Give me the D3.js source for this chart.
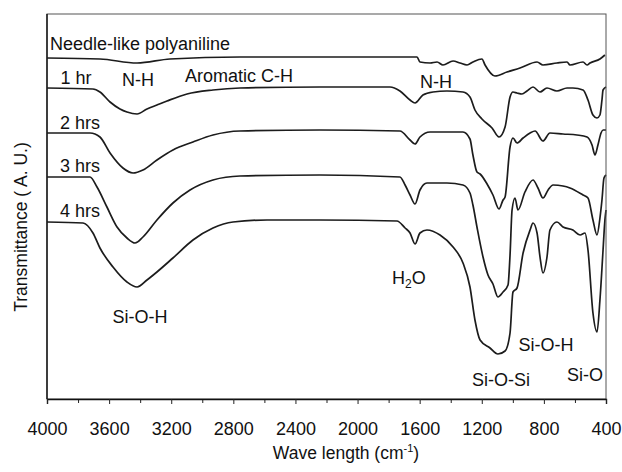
<!DOCTYPE html>
<html>
<head>
<meta charset="utf-8">
<script src="https://cdn.jsdelivr.net/npm/d3@7"></script>
<style>
	body { margin: 0; background: #fff; }
	svg { font-family: 'Liberation Sans', Arial, sans-serif; }
</style>
</head>
<body>
<svg id="chart" width="622" height="472"></svg>
<script>
// [wavenumber (cm-1), transmittance (a.u.)]
const needlePani = [
	[4000, 68.2], [3659, 68.0], [3420, 67.2], [3208, 68.0], [2757, 68.4], [2242, 68.4], [1617, 68.4],
	[1598, 67.4], [1533, 67.2], [1488, 67.4], [1450, 66.8], [1385, 67.6], [1340, 67.2], [1295, 66.8],
	[1257, 67.4], [1199, 68.0], [1179, 66.8], [1115, 64.6], [1038, 65.4], [954, 66.2], [844, 67.4],
	[806, 66.8], [716, 67.2], [651, 67.4], [632, 66.8], [548, 67.4], [522, 66.8], [503, 67.2],
	[439, 68.0], [407, 68.8],
]
const hr1 = [
	[4000, 62.2], [3704, 62.0], [3659, 61.4], [3594, 59.4], [3530, 58.0], [3485, 57.4], [3420, 57.0],
	[3356, 58.0], [3292, 58.8], [3227, 59.6], [3098, 61.0], [2931, 61.8], [2757, 62.2], [2242, 62.4],
	[1791, 62.4], [1727, 61.6], [1662, 59.8], [1630, 59.2], [1579, 60.8], [1514, 61.4], [1424, 61.6],
	[1321, 61.4], [1276, 60.4], [1244, 57.8], [1199, 56.0], [1134, 54.2], [1089, 52.4], [1050, 54.4],
	[1018, 60.4], [999, 61.4], [973, 61.2], [941, 61.0], [909, 61.6], [870, 62.4], [825, 61.4],
	[780, 62.2], [716, 61.6], [651, 62.2], [613, 62.2], [548, 61.8], [516, 59.8], [484, 56.8],
	[458, 56.2], [439, 56.8], [426, 59.8], [419, 61.8], [400, 62.4],
]
const hr2 = [
	[4000, 53.2], [3723, 53.2], [3659, 52.4], [3594, 49.2], [3511, 46.2], [3446, 45.2], [3382, 45.8],
	[3292, 47.8], [3189, 49.8], [3060, 51.4], [2931, 52.8], [2757, 53.6], [2242, 53.8], [1727, 53.6],
	[1662, 51.8], [1630, 51.0], [1598, 52.4], [1533, 53.4], [1321, 53.4], [1276, 52.0], [1257, 48.8],
	[1231, 45.4], [1211, 45.0], [1166, 43.0], [1128, 40.8], [1089, 38.0], [1063, 39.8], [1050, 40.4],
	[1018, 50.4], [999, 52.2], [973, 51.2], [934, 52.2], [889, 53.2], [857, 53.6], [806, 51.6],
	[761, 53.2], [677, 53.0], [587, 52.8], [522, 52.4], [490, 50.8], [471, 48.8], [452, 50.8],
	[432, 53.2], [419, 53.8], [400, 53.8],
]
const hr3 = [
	[4000, 44.4], [3723, 44.4], [3678, 42.4], [3614, 38.4], [3549, 34.4], [3485, 32.2], [3433, 31.2],
	[3382, 32.4], [3292, 35.8], [3189, 39.2], [3079, 41.8], [2931, 43.8], [2757, 44.6], [2242, 44.8],
	[1727, 44.4], [1694, 42.8], [1662, 40.8], [1630, 39.0], [1598, 41.8], [1553, 43.2], [1424, 43.2],
	[1321, 42.8], [1276, 41.2], [1257, 38.8], [1231, 34.4], [1192, 28.4], [1160, 24.8], [1128, 23.0],
	[1096, 20.4], [1063, 21.4], [1031, 22.8], [1018, 28.8], [1005, 37.8], [986, 40.2], [967, 37.8],
	[922, 41.4], [870, 43.8], [838, 42.2], [806, 40.2], [773, 41.8], [741, 42.8], [677, 42.6],
	[632, 42.2], [548, 40.8], [516, 40.2], [484, 35.8], [458, 32.8], [439, 36.2], [426, 39.8],
	[413, 44.2], [400, 44.8],
]
const hr4 = [
	[4000, 35.4], [3768, 35.2], [3704, 33.2], [3659, 30.2], [3575, 26.4], [3485, 23.4], [3420, 22.4],
	[3356, 23.8], [3292, 25.4], [3189, 28.2], [3060, 31.8], [2931, 34.2], [2802, 35.4], [2583, 35.8],
	[2242, 35.8], [1746, 35.6], [1694, 34.2], [1662, 33.2], [1630, 31.0], [1598, 33.2], [1553, 33.8],
	[1469, 32.8], [1385, 30.4], [1321, 27.2], [1276, 22.4], [1244, 15.8], [1211, 11.8], [1147, 10.2],
	[1096, 9.0], [1050, 9.6], [1018, 13.2], [999, 21.4], [973, 22.2], [934, 29.2], [889, 33.8],
	[870, 35.2], [844, 33.2], [825, 28.4], [806, 25.2], [780, 28.4], [761, 33.8], [716, 35.4],
	[677, 34.4], [613, 33.8], [567, 32.8], [535, 33.2], [516, 29.8], [484, 17.2], [458, 13.4],
	[439, 19.8], [419, 29.8], [407, 35.8], [400, 37.8],
]
const spectra = [needlePani, hr1, hr2, hr3, hr4]

const majorTicks = [4000, 3600, 3200, 2800, 2400, 2000, 1600, 1200, 800, 400]
const minorTicks = [3800, 3400, 3000, 2600, 2200, 1800, 1400, 1000, 600]

// label text, anchor wavenumber, transmittance, text-anchor
const sampleLabels = [
	['Needle-like polyaniline', 3981, 71.0, 'start'],
	['1 hr', 3813, 64.2, 'middle'],
	['2 hrs', 3787, 55.2, 'middle'],
	['3 hrs', 3787, 46.6, 'middle'],
	['4 hrs', 3787, 37.6, 'middle'],
]
const bandLabels = [
	['N-H', 3414, 63.8],
	['Aromatic C-H', 2764, 64.6],
	['N-H', 1495, 63.4],
	['Si-O-H', 3401, 16.4],
	['Si-O-H', 786, 10.8],
	['Si-O-Si', 1076, 3.8],
	['Si-O', 535, 4.8],
]
const waterLabel = [1669, 24.2]

const svg = d3.select('#chart')
const width = 622
const height = 472
const margin = { left: 47, right: 16, top: 14, bottom: 73 }
const innerWidth = width - margin.left - margin.right
const innerHeight = height - margin.top - margin.bottom

const xScale = d3.scaleLinear().domain([4000, 400]).range([margin.left, margin.left + innerWidth])
const yScale = d3.scaleLinear().domain([0, 77]).range([margin.top + innerHeight, margin.top])

const line = d3
	.line()
	.x(d => xScale(d[0]))
	.y(d => yScale(d[1]))
	.curve(d3.curveMonotoneX)

svg
	.selectAll('path.spectrum')
	.data(spectra)
	.join('path')
	.attr('class', 'spectrum')
	.attr('d', line)
	.attr('fill', 'none')
	.attr('stroke', '#1c1c1c')
	.attr('stroke-width', 1.7)
	.attr('stroke-linejoin', 'round')

// frame
svg
	.append('rect')
	.attr('x', margin.left)
	.attr('y', margin.top)
	.attr('width', innerWidth)
	.attr('height', innerHeight)
	.attr('fill', 'none')
	.attr('stroke', '#555')
	.attr('stroke-width', 1)

svg
	.append('line')
	.attr('x1', margin.left)
	.attr('x2', margin.left)
	.attr('y1', margin.top)
	.attr('y2', margin.top + innerHeight)
	.attr('stroke', '#111')
	.attr('stroke-width', 1.4)

const xAxis = d3.axisBottom(xScale).tickValues(majorTicks).tickSize(5).tickPadding(18).tickFormat(d3.format('d'))
const xMinor = d3.axisBottom(xScale).tickValues(minorTicks).tickSize(4).tickFormat('')

svg
	.append('g')
	.attr('transform', `translate(0, ${margin.top + innerHeight})`)
	.call(xMinor)
	.call(g => g.select('.domain').remove())
	.selectAll('line')
	.attr('stroke', '#222')

const xg = svg
	.append('g')
	.attr('transform', `translate(0, ${margin.top + innerHeight})`)
	.style('font-size', '18px')
	.style('font-family', "'Liberation Sans', Arial, sans-serif")
	.call(xAxis)
xg.select('.domain').attr('stroke', '#111').attr('stroke-width', 1.4)
xg.selectAll('.tick line').attr('stroke', '#222')
xg.selectAll('.tick text').attr('fill', '#111')

// axis titles
const xTitle = svg
	.append('text')
	.attr('x', 346)
	.attr('y', 459)
	.attr('text-anchor', 'middle')
	.style('font-size', '17.5px')
	.attr('fill', '#111')
xTitle.append('tspan').text('Wave length (cm')
xTitle.append('tspan').attr('dy', -7).style('font-size', '11px').text('-1')
xTitle.append('tspan').attr('dy', 7).text(')')

svg
	.append('text')
	.attr('transform', 'translate(21, 227) rotate(-90)')
	.attr('text-anchor', 'middle')
	.attr('dominant-baseline', 'central')
	.style('font-size', '17.5px')
	.attr('fill', '#111')
	.text('Transmittance ( A. U.)')

// sample and band labels
svg
	.selectAll('text.sample')
	.data(sampleLabels)
	.join('text')
	.attr('class', 'sample')
	.attr('x', d => xScale(d[1]))
	.attr('y', d => yScale(d[2]))
	.attr('text-anchor', d => d[3])
	.attr('dominant-baseline', 'central')
	.style('font-size', '18px')
	.attr('fill', '#111')
	.text(d => d[0])

svg
	.selectAll('text.band')
	.data(bandLabels)
	.join('text')
	.attr('class', 'band')
	.attr('x', d => xScale(d[1]))
	.attr('y', d => yScale(d[2]))
	.attr('text-anchor', 'middle')
	.attr('dominant-baseline', 'central')
	.style('font-size', '18px')
	.attr('fill', '#111')
	.text(d => d[0])

const water = svg
	.append('text')
	.attr('x', xScale(waterLabel[0]))
	.attr('y', yScale(waterLabel[1]) + 6)
	.attr('text-anchor', 'middle')
	.style('font-size', '18px')
	.attr('fill', '#111')
water.append('tspan').text('H')
water.append('tspan').attr('dy', 4).style('font-size', '12px').text('2')
water.append('tspan').attr('dy', -4).text('O')
</script>
</body>
</html>
